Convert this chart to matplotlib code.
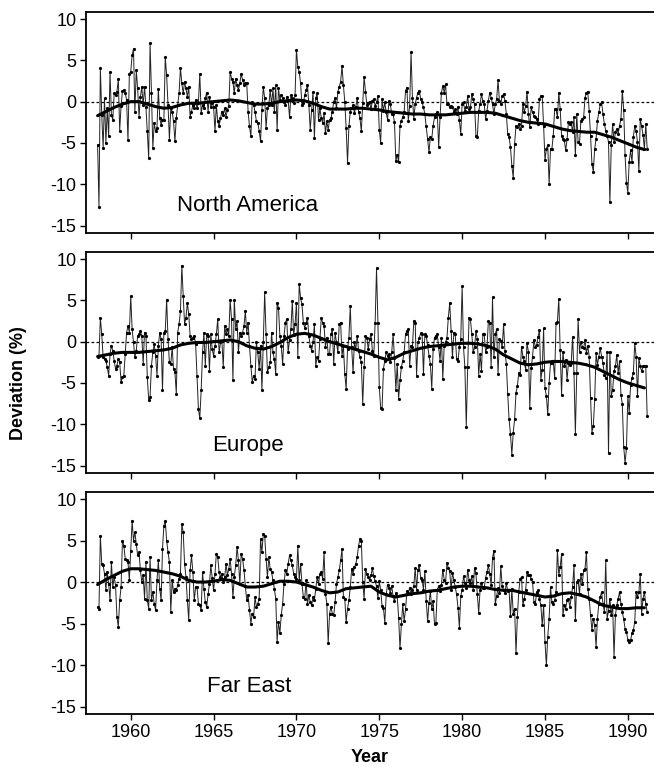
import numpy as np
import matplotlib.pyplot as plt

# =========================================================
# DATA (monthly deviation in %, Jan 1958 .. Mar 1991)
# =========================================================
north_america = [
    -5.2, -12.7, 4.1, -1.6, -5.6, 0.4, -5.0, -0.8, -4.2, 3.6, -1.6, -2.2,   # 1958
    1.0, 0.8, 1.2, 2.7, -3.5, -0.5, 1.3, 1.4, 1.1, 0.2, -4.7, 3.4,          # 1959
    3.6, 5.6, 6.4, -1.2, 3.8, 1.6, -1.8, 0.6, 1.8, -0.4, 1.8, -0.6,          # 1960
    -3.6, -6.8, 7.1, 1.1, -5.6, -2.6, -3.6, -3.2, 1.5, -2.0, -2.8, -2.2,     # 1961
    -2.2, 5.4, 3.2, -0.4, -4.6, -0.8, -1.2, -2.4, -4.8, -2.0, -0.4, 1.0,     # 1962
    4.1, 2.2, 1.0, 2.4, 1.6, 0.6, 1.8, -1.8, -1.2, -0.4, -0.8, 0.2,          # 1963
    -0.8, -0.2, 3.4, -1.4, -0.4, -0.8, 0.4, 1.1, -1.2, 0.6, -0.6, -0.2,      # 1964
    -0.6, -3.6, -0.4, -2.4, -3.0, -2.0, -1.2, -1.6, -0.8, -1.8, -1.0, -0.5,  # 1965
    3.6, 2.8, 2.4, 1.0, 2.8, 2.0, 1.4, 2.2, 3.4, 2.6, 2.0, 2.2,              # 1966
    2.2, -1.2, -3.0, -4.2, 0.0, -0.4, -1.2, -2.4, -2.6, -3.5, -4.8, -1.0,    # 1967
    1.8, 0.4, -3.2, -0.8, -0.4, 1.4, -0.4, 1.6, -1.2, 2.0, -3.4, 1.6,        # 1968
    0.2, 0.8, 0.4, 0.0, -0.4, 0.6, 0.2, -1.9, 0.8, 0.4, -0.2, 0.8,           # 1969
    6.3, 4.2, 3.6, 2.2, -0.4, -0.2, 0.8, 1.4, 2.0, -0.4, -3.4, -1.0,         # 1970
    1.2, -4.4, 0.4, 1.0, -2.2, -0.8, -2.0, -2.6, -1.4, -3.8, -2.4, -3.4,     # 1971
    -2.2, -2.0, -1.2, 0.0, 0.4, -0.8, 1.2, 1.8, 2.4, 4.3, 2.0, 0.0,          # 1972
    -3.2, -7.4, -3.0, -1.2, -0.8, -0.4, -1.4, -0.6, 0.4, -1.2, -2.0, -3.6,   # 1973
    -0.2, 3.0, 1.2, -0.4, -0.2, 0.0, -0.9, 0.1, 0.3, -0.5, -0.1, 0.7,        # 1974
    -3.4, -5.0, 0.3, -1.1, -0.1, -1.3, -2.2, 0.1, -0.3, -1.5, -1.5, -2.5,    # 1975
    -7.2, -6.4, -7.3, -2.9, -2.3, -1.9, -1.3, 1.3, 1.7, -2.3, -0.5, 6.0,     # 1976
    0.5, -2.1, -0.3, 0.5, 1.1, 1.3, 0.3, -0.1, -0.7, -1.5, -3.0, -4.5,       # 1977
    -6.1, -4.3, -4.5, -2.9, -1.9, -1.5, -1.3, -5.5, -1.9, 1.1, 1.9, 1.1,     # 1978
    2.1, -0.3, -0.3, -0.7, -0.5, -0.7, -1.2, -0.9, -1.5, -0.6, -2.2, -3.9,   # 1979
    -0.3, -0.1, -1.1, -0.7, 0.7, -0.9, -0.7, 0.9, 0.3, -0.3, -4.1, -4.3,     # 1980
    -1.1, -0.3, 0.9, 0.1, -0.3, -2.1, -1.1, 0.1, 1.1, 0.5, -0.3, -1.5,       # 1981
    -0.3, 0.3, 2.6, 0.1, -0.3, 0.7, 0.9, 0.1, -1.5, -3.9, -4.3, -5.5,        # 1982
    -7.8, -9.2, -5.1, -2.9, -3.1, -2.7, -3.3, -2.9, -0.3, -1.3, -0.5, 1.2,   # 1983
    -1.5, -3.1, -0.7, -1.3, -1.7, -1.9, -2.1, -2.7, 0.3, 0.7, 0.7, -2.9,     # 1984
    -7.1, -5.7, -5.3, -10.0, -5.7, -5.7, -4.1, -0.9, -0.9, -1.9, 1.1, -0.9,  # 1985
    -4.1, -4.5, -4.7, -5.9, -4.5, -2.5, -2.7, -2.5, -3.7, -1.9, -6.5, -1.5,  # 1986
    -4.9, -5.1, -2.3, -2.1, -1.9, 0.5, 1.1, 1.2, -1.1, -4.1, -7.5, -8.5,     # 1987
    -5.7, -4.5, -2.3, -1.3, -0.3, -0.1, -1.5, -2.7, -3.5, -4.1, -4.9, -12.2, # 1988
    -5.3, -2.7, -4.9, -3.7, -3.3, -3.9, -2.9, -2.1, 1.3, -1.0, -6.5, -9.8,   # 1989
    -11.0, -7.3, -5.9, -7.3, -4.3, -2.9, -3.5, -4.9, -8.4, -2.1, -3.0, -4.0, # 1990
    -5.7, -2.7, -5.7,                                                        # 1991
]

europe = [
    -1.9, -1.7, 2.9, 0.9, -1.9, -2.1, -2.3, -3.1, -4.1, -1.5, -0.5, -1.1,    # 1958
    -2.3, -3.3, -2.9, -2.1, -2.5, -4.9, -4.3, -4.1, -1.5, 1.1, 1.9, 1.1,     # 1959
    5.5, 1.5, -0.1, -1.9, -1.1, 0.7, 0.9, 1.3, 0.7, -2.7, 1.1, 0.7,          # 1960
    -4.3, -7.1, -6.7, -2.9, -1.3, -0.3, -1.7, -4.1, -0.5, 1.1, 0.3, -5.9,    # 1961
    1.1, 1.3, 5.1, 0.3, -2.5, -2.7, -0.7, -3.3, -3.7, -6.3, 1.1, 2.1,        # 1962
    3.7, 9.2, 5.5, 2.1, 2.9, 4.7, 3.3, 0.7, 0.3, 0.5, 0.7, -0.3,             # 1963
    -4.1, -8.1, -9.3, -5.9, -1.3, 1.1, -2.9, 0.9, 0.7, -3.5, 0.9, -0.9,      # 1964
    -1.7, -0.5, 0.9, 2.7, -1.3, -0.1, 0.1, -3.1, 1.9, 0.9, 1.5, 0.7,         # 1965
    5.1, 2.7, -4.7, 5.1, 1.5, 2.5, -1.3, 1.1, 0.7, 1.1, 1.9, 3.7,            # 1966
    1.1, 2.3, -0.5, -2.9, -4.9, -4.1, -4.5, -0.1, -1.3, -3.3, -0.5, -5.9,    # 1967
    -0.1, 6.0, 0.9, -3.7, -3.1, -2.5, 1.1, -1.3, -2.1, -3.9, 4.7, 4.1,       # 1968
    0.7, -0.5, -2.7, 0.7, 2.3, 2.7, -1.3, 0.2, 1.5, 4.9, 0.8, 2.1,           # 1969
    4.7, -1.8, 7.0, 5.3, 4.5, 2.3, 1.7, 2.3, 2.9, 0.7, -0.5, -1.1,           # 1970
    -0.1, 2.1, -2.9, -1.9, -2.3, 0.3, 2.9, 2.3, 1.9, -0.6, 0.5, -1.5,        # 1971
    -1.5, 0.9, 1.5, -2.7, 1.1, -0.1, -1.3, 2.1, 2.3, -1.7, -0.5, -3.9,       # 1972
    -5.7, -0.9, 0.5, 4.3, -0.7, -3.7, -0.1, -0.9, 0.7, -1.1, -1.9, -2.5,     # 1973
    -7.5, -3.1, 0.7, 0.5, -0.9, 0.3, 0.9, -1.1, -1.7, 2.3, 8.9, 2.3,         # 1974
    -5.5, -8.0, -8.2, -3.3, -2.3, -1.3, -1.7, -1.5, -2.5, -1.3, 0.9, -2.0,   # 1975
    -5.9, -2.7, -6.9, -4.7, -3.1, -2.3, -1.3, 0.9, 1.3, 1.5, -2.9, -0.5,     # 1976
    -0.7, 2.5, 2.3, -4.1, -0.1, 0.5, 1.0, 0.9, -3.9, 0.9, 0.7, -0.4,         # 1977
    -1.7, -2.7, -5.7, -0.9, 0.5, 0.7, 0.9, -0.7, -2.3, 0.5, -4.5, -0.5,      # 1978
    -0.1, 0.5, 2.9, 4.7, 1.3, -1.9, 1.1, 0.9, -2.1, -2.3, -0.7, 0.3,         # 1979
    6.7, -0.7, -3.1, -10.3, -3.1, 2.9, 2.7, 0.9, -1.3, -0.7, 1.3, 0.3,       # 1980
    -4.1, -1.5, -3.5, 0.9, 0.9, -1.3, -0.7, 2.5, 2.3, -3.1, 5.4, -1.9,       # 1981
    0.9, 1.5, -3.9, 0.3, 0.1, -0.7, 2.1, -1.1, -2.7, -6.3, -9.4, -11.2,      # 1982
    -13.7, -11.0, -9.4, -6.2, -5.4, -3.8, -4.0, -0.6, -1.8, -2.4, -3.4, -0.2,  # 1983
    -1.2, -8.0, -3.2, -1.8, 0.2, -0.6, -0.4, 0.6, 1.4, -4.6, -3.4, 1.6,      # 1984
    -5.6, -6.6, -8.8, -5.0, -2.6, -2.6, -2.4, -4.4, 2.2, 2.4, 5.2, -1.0,     # 1985
    -6.4, -1.2, -3.0, -2.2, -4.6, -2.6, -2.8, -2.6, 0.6, -3.8, -11.2, -3.8,  # 1986
    2.7, -1.2, 0.0, -0.6, -0.8, 0.2, -1.4, -0.5, -1.8, -6.8, -11.0, -10.2,   # 1987
    -7.0, -1.4, -2.8, -1.8, -0.8, -1.8, -2.6, -4.0, -4.4, -1.2, -13.5, -1.2, # 1988
    -6.6, -5.8, -3.6, -3.0, -1.6, -3.8, -2.4, -6.4, -7.6, -12.7, -14.7, -12.9,  # 1989
    -6.6, -8.6, -5.2, -4.4, -3.8, -0.2, -1.8, -6.6, -2.0, -3.0, -3.6, -3.0,  # 1990
    -3.0, -3.0, -9.0,                                                        # 1991
]

far_east = [
    -3.0, -3.2, 5.6, 2.2, 2.0, 1.0, -1.0, 1.2, -0.2, -2.2, 2.4, -0.6,        # 1958
    0.6, -0.4, -4.2, -5.4, -2.2, -0.6, 5.0, 4.4, 2.8, 2.6, 2.4, 0.2,         # 1959
    3.8, 7.4, 5.0, 6.0, 4.6, 3.2, 3.6, 1.4, 0.0, 0.8, -2.0, 2.4,             # 1960
    -2.2, -3.2, 3.0, -2.2, -1.2, -2.6, -3.4, 0.2, 2.6, -0.8, -2.2, 4.0,      # 1961
    6.8, 7.4, 5.0, 3.6, 2.4, -3.6, 0.2, -1.2, -0.8, -1.0, -0.4, 0.4,         # 1962
    1.0, 7.0, 6.0, 2.2, 0.6, -2.2, -4.6, 1.4, 3.2, 1.2, -2.2, -0.6,          # 1963
    -0.6, -2.6, -2.8, -3.4, 1.2, -0.8, -2.4, -3.0, -1.5, -0.2, 2.0, 0.5,     # 1964
    -1.0, 1.0, 3.4, 3.0, 1.2, 0.6, 1.0, 0.0, 0.6, 2.2, 0.8, 1.6,             # 1965
    2.8, 1.0, -1.8, 0.6, 2.0, 4.2, 2.6, -0.2, 3.4, 2.8, 1.5, -0.5,           # 1966
    -2.2, -1.6, -3.4, -5.0, -3.8, -4.2, -1.8, -3.0, -2.6, -2.0, 5.2, 3.6,    # 1967
    5.8, 5.6, 2.8, 0.6, 3.0, 1.6, 1.2, 0.2, -0.8, -2.0, -7.2, -4.8,          # 1968
    -6.2, -4.0, -2.6, -0.2, 1.4, 1.0, 2.2, 3.2, 2.6, 2.0, 1.0, 0.6,          # 1969
    0.4, 4.4, 0.2, 2.2, -0.2, -1.8, -2.0, 0.2, -2.6, -1.6, -2.4, -2.8,       # 1970
    -1.8, -2.2, -0.8, 0.6, -0.2, 1.0, 1.2, 0.4, 3.6, -1.4, -2.6, -7.4,       # 1971
    -3.8, -3.0, -3.8, -4.0, -2.4, -0.2, 0.6, 1.4, 2.6, 4.0, -1.8, -2.0,      # 1972
    -4.8, -3.2, -2.2, -0.6, 1.6, 1.0, 1.8, 2.2, 3.0, 4.4, 5.2, 5.0,          # 1973
    0.0, -2.0, 1.6, 1.0, 0.6, 0.2, 0.8, 1.7, 0.7, 0.1, -0.5, -1.9,           # 1974
    0.1, -0.9, -2.9, -3.1, -4.9, -1.5, -0.3, -0.7, -1.3, -0.5, -1.7, -2.3,   # 1975
    -1.3, -1.7, -4.3, -8.0, -5.1, -2.7, -4.7, -3.3, -1.1, -1.3, -0.7, -1.5,  # 1976
    -0.9, -0.5, 1.7, -0.9, 1.5, 2.0, 0.5, 0.3, -0.9, 1.3, -2.3, -4.7,        # 1977
    -2.5, -1.1, -3.3, -2.3, -5.1, -4.9, -0.9, -0.5, -1.1, -0.3, 1.5, 0.3,    # 1978
    -0.1, 2.3, 1.7, 1.3, -0.9, 1.1, 0.3, -0.6, -1.5, -3.1, -5.5, -1.7,       # 1979
    -0.9, 0.7, -0.1, -0.7, 1.5, 0.3, -0.1, 0.7, -0.9, 1.7, 1.1, -1.5,        # 1980
    -3.7, -0.9, -0.1, -0.7, -0.7, 0.5, 1.2, 2.0, 1.0, -0.4, 2.9, 3.8,        # 1981
    -2.7, -1.7, -0.7, -1.3, 1.9, -0.5, -0.9, -1.3, -0.1, -1.1, -1.0, -4.1,   # 1982
    -0.8, -3.8, -3.2, -8.6, -4.2, -1.2, 0.4, 0.6, -2.8, -2.0, -1.0, 1.2,     # 1983
    0.8, 0.8, 0.4, 0.0, -2.4, -2.6, -1.2, -1.0, -2.0, -2.8, -5.2, -2.8,      # 1984
    -7.2, -10.0, -6.6, -4.4, -0.6, -2.4, -2.6, -2.2, -1.2, 3.9, 0.8, 1.8,    # 1985
    3.4, -4.0, -2.8, -3.2, -2.2, -2.0, -3.0, -1.8, -0.6, 2.0, -4.6, 0.0,     # 1986
    0.2, -1.4, 1.0, -0.2, 1.4, 1.6, 3.6, -0.8, -2.0, -4.0, -5.8, -4.4,       # 1987
    -5.2, -7.8, -4.4, -2.6, -1.8, -1.2, -2.6, -3.6, 2.6, -4.4, -3.5, -2.0,   # 1988
    -4.0, -2.8, -9.0, -4.0, -2.8, -2.0, -1.2, -2.6, -3.6, -4.5, -5.6, -6.0,  # 1989
    -7.0, -7.2, -7.0, -6.2, -5.8, -4.8, -1.2, -1.8, -1.2, 1.0, -3.8, -2.0,   # 1990
    -1.2, -2.6, -3.6,                                                        # 1991
]

# smooth trend, read every half year from 1958.0 to 1991.0
trend_na = [
    -1.7, -1.2, -0.7, -0.3, 0.0, 0.0, -0.3, -0.6, -0.8, -0.7, -0.4, -0.2,
    -0.2, -0.1, 0.0, 0.1, 0.2, 0.1, -0.1, -0.3, -0.3, -0.2, 0.0, 0.1,
    0.2, 0.1, -0.2, -0.6, -0.9, -0.9, -0.9, -0.8, -0.8, -0.9, -1.0, -1.2,
    -1.3, -1.4, -1.5, -1.5, -1.6, -1.6, -1.6, -1.5, -1.4, -1.3, -1.3, -1.3,
    -1.4, -1.7, -2.0, -2.3, -2.5, -2.6, -2.7, -3.0, -3.3, -3.5, -3.6, -3.7,
    -3.7, -4.0, -4.3, -4.7, -5.1, -5.5, -5.8,
]
trend_eu = [
    -1.8, -1.6, -1.4, -1.3, -1.3, -1.3, -1.2, -1.1, -1.0, -0.8, -0.4, -0.2,
    -0.1, -0.1, 0.0, 0.1, 0.2, 0.0, -0.5, -0.8, -0.9, -0.6, -0.1, 0.5,
    0.9, 1.0, 0.8, 0.4, 0.0, -0.3, -0.6, -0.9, -1.2, -1.5, -1.9, -2.2,
    -1.9, -1.4, -1.1, -0.8, -0.6, -0.5, -0.4, -0.3, -0.2, -0.2, -0.3, -0.5,
    -0.9, -1.6, -2.1, -2.6, -2.8, -2.7, -2.5, -2.4, -2.4, -2.5, -2.6, -2.8,
    -3.1, -3.6, -4.1, -4.6, -5.0, -5.3, -5.6,
]
trend_fe = [
    -0.3, 0.3, 0.8, 1.3, 1.6, 1.6, 1.5, 1.4, 1.2, 1.0, 0.7, 0.2,
    0.0, 0.0, 0.1, 0.3, 0.2, -0.2, -0.6, -0.6, -0.5, -0.2, 0.1, 0.1,
    0.0, -0.3, -0.6, -1.0, -1.3, -1.2, -0.8, -0.7, -0.6, -0.5, -1.2, -1.6,
    -1.8, -1.6, -1.4, -1.3, -1.1, -1.0, -0.8, -0.6, -0.5, -0.5, -0.6, -0.7,
    -0.9, -1.0, -1.0, -1.2, -1.4, -1.6, -1.8, -1.7, -1.4, -1.3, -1.5, -1.8,
    -2.3, -2.8, -3.0, -3.2, -3.2, -3.1, -3.1,
]

regions = ["North America", "Europe", "Far East"]
series = [north_america, europe, far_east]
trends = [trend_na, trend_eu, trend_fe]
label_x = [1962.8, 1964.9, 1964.6]

months = 1958 + np.arange(len(north_america)) / 12.0
trend_years = 1958 + np.arange(len(trend_na)) * 0.5

# =========================================================
# FIGURE
# =========================================================
plt.rcParams["font.family"] = ["Liberation Sans", "DejaVu Sans"]
plt.rcParams["axes.unicode_minus"] = False

W, H = 654, 767
fig = plt.figure(figsize=(W / 100, H / 100), dpi=100)

panel_px = [(12, 233), (252, 473), (492, 714)]
left_px, right_px = 86, 656

for i, (top, bot) in enumerate(panel_px):
    ax = fig.add_axes([left_px / W, 1 - bot / H, (right_px - left_px) / W, (bot - top) / H])
    ax.axhline(0, color="black", lw=0.9, ls=(0, (2.2, 1.8)), zorder=1)
    ax.plot(months, series[i], color="#222222", lw=0.7, marker="o", ms=2.3,
            markeredgewidth=0, markerfacecolor="black", zorder=2)
    ax.plot(trend_years, trends[i], color="black", lw=2.2,
            solid_capstyle="round", zorder=3)
    ax.text(label_x[i], -12.6, regions[i], fontsize=16, va="center", ha="left")

    ax.set_xlim(1957.3, 1991.7)
    ax.set_ylim(-15.9, 10.85)
    ax.set_yticks([-15, -10, -5, 0, 5, 10])
    ax.set_xticks([1960, 1965, 1970, 1975, 1980, 1985, 1990])
    ax.tick_params(direction="out", length=4.5, width=1.0, labelsize=13, pad=2.5)
    if i < 2:
        ax.tick_params(axis="x", labelbottom=False)
    for s in ax.spines.values():
        s.set_linewidth(1.3)

fig.text(0.028, 0.50, "Deviation (%)", rotation=90, ha="center", va="center",
         fontsize=13, fontweight="bold")
fig.text(0.565, 0.013, "Year", ha="center", va="center",
         fontsize=13, fontweight="bold")

plt.savefig("out.png", dpi=100)
